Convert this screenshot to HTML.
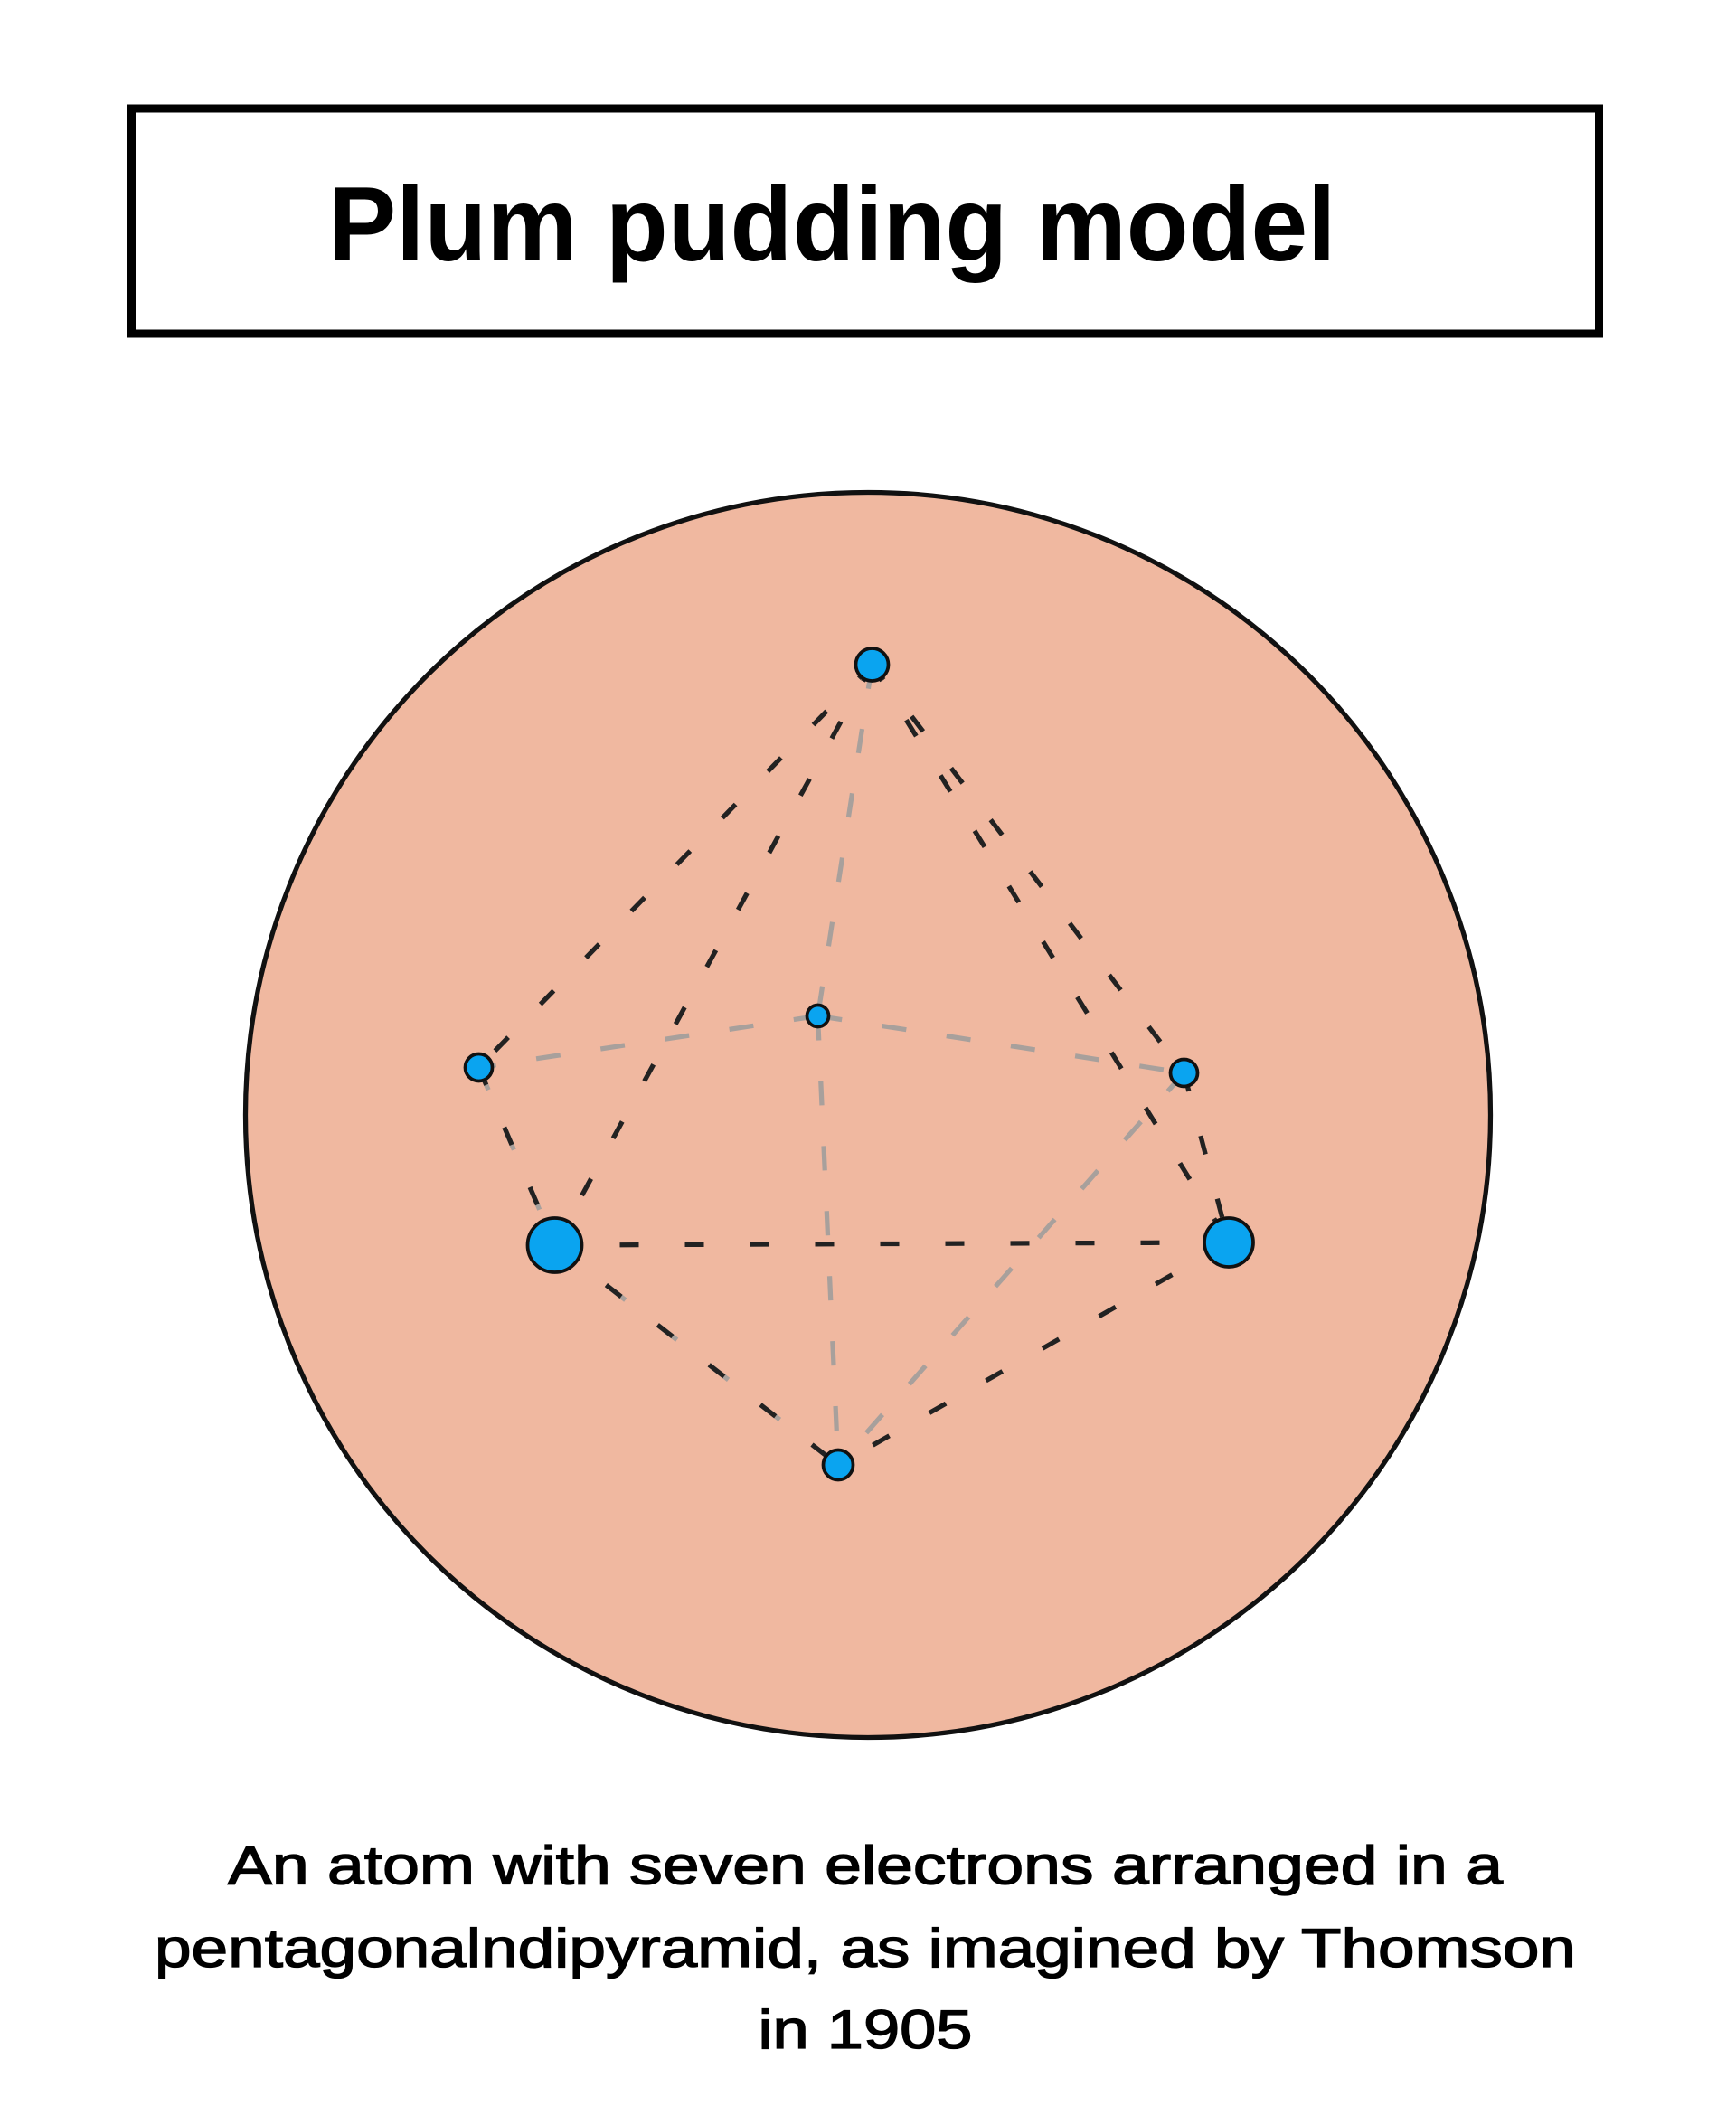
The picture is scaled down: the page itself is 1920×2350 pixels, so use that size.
<!DOCTYPE html>
<html><head><meta charset="utf-8"><style>html,body{margin:0;padding:0;background:#fff}svg{display:block}</style></head>
<body>
<svg width="1920" height="2350" viewBox="0 0 1280 1566.67" xmlns="http://www.w3.org/2000/svg">
<rect x="97" y="80" width="1082" height="166" fill="#fff" stroke="#000" stroke-width="6"/>
<text x="242" y="192" font-family="Liberation Sans, sans-serif" font-size="78" font-weight="bold" textLength="743" lengthAdjust="spacingAndGlyphs">Plum pudding model</text>
<circle cx="640" cy="822" r="459" fill="#f0b8a0" stroke="#111" stroke-width="3.5"/>
<g stroke="#a8a09c" stroke-width="3.5" stroke-dasharray="18 30" fill="none">
<line x1="643" y1="490" x2="603" y2="749"/>
<line x1="603" y1="749" x2="353" y2="787"/>
<line x1="603" y1="749" x2="873" y2="791"/>
<line x1="603" y1="749" x2="618" y2="1080"/>
<line x1="353" y1="787" x2="409" y2="918"/>
<line x1="873" y1="791" x2="618" y2="1080"/>
<line x1="409" y1="918" x2="618" y2="1080"/>
</g>
<g stroke="#222" stroke-width="3.5" stroke-dasharray="14 34" fill="none">
<line x1="643" y1="490" x2="353" y2="787"/>
<line x1="643" y1="490" x2="409" y2="918"/>
<line x1="643" y1="490" x2="873" y2="791"/>
<line x1="643" y1="490" x2="906" y2="916"/>
<line x1="353" y1="787" x2="409" y2="918"/>
<line x1="873" y1="791" x2="906" y2="916"/>
<line x1="409" y1="918" x2="906" y2="916"/>
<line x1="409" y1="918" x2="618" y2="1080"/>
<line x1="906" y1="916" x2="618" y2="1080"/>
</g>
<g fill="#0aa4f0" stroke="#111" stroke-width="2.5">
<circle cx="643" cy="490" r="12"/>
<circle cx="353" cy="787" r="10"/>
<circle cx="603" cy="749" r="8"/>
<circle cx="873" cy="791" r="10"/>
<circle cx="409" cy="918" r="20"/>
<circle cx="906" cy="916" r="18"/>
<circle cx="618" cy="1080" r="11"/>
</g>
<g font-family="Liberation Sans, sans-serif" font-size="40" text-anchor="middle" stroke="#000" stroke-width="0.9">
<text x="638" y="1389" textLength="940" lengthAdjust="spacingAndGlyphs">An atom with seven electrons arranged in a</text>
<text x="638" y="1450" textLength="1048" lengthAdjust="spacingAndGlyphs">pentagonalndipyramid, as imagined by Thomson</text>
<text x="638" y="1510" textLength="158" lengthAdjust="spacingAndGlyphs">in 1905</text>
</g>
</svg>
</body></html>
